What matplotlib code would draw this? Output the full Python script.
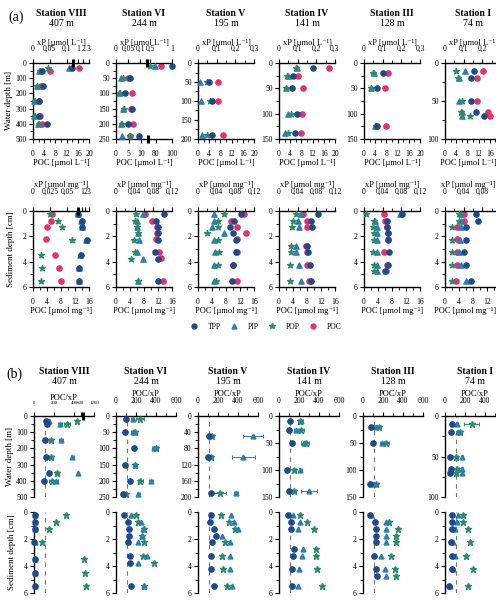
import numpy as np
import matplotlib
matplotlib.use('Agg')
import matplotlib.pyplot as plt
from matplotlib.lines import Line2D

plt.rcParams['font.family'] = ['Liberation Serif', 'DejaVu Serif']
plt.rcParams['font.size'] = 5.5
plt.rcParams['axes.linewidth'] = 1.0

stations = ['Station VIII', 'Station VI', 'Station V', 'Station IV', 'Station III', 'Station I']
bottom_depth = ['407 m', '244 m', '195 m', '141 m', '128 m', '74 m']

# (a) water column: xP [umol/L] and POC [umol/L]
wc_depth = [[30, 50, 150, 250, 350, 400], [10, 50, 100, 150, 200, 240], [50, 100, 190],
            [10, 25, 50, 100, 138], [20, 50, 125], [10, 20, 50, 65, 70]]
wc_tpp = [[0.5, 0.026, 0.031, 0.019, 0.017, 0.041], [1.0, 0.058, 0.037, 0.065, 0.051, 0.097],
          [0.061, 0.074, 0.074], [0.18, 0.077, 0.071, 0.098, 0.086], [0.104, 0.067, 0.07],
          [0.157, 0.139, 0.14, 0.166, 0.21]]
wc_pip = [[0.28, 0.019, 0.011, 0.004, 0.004, 0.016], [0.61, 0.021, 0.0125, 0.03, 0.021, 0.023],
          [0.011, 0.017, 0.02], [0.095, 0.047, 0.038, 0.05, 0.032], [0.051, 0.035, 0.061],
          [0.109, 0.076, 0.073, 0.09, 0.09]]
wc_pop = [[0.045, 0.021, 0.013, 0.006, 0.006, 0.018], [0.5, 0.028, 0.015, 0.032, 0.025, 0.06],
          [0.048, 0.062, 0.048], [0.09, 0.045, 0.035, 0.063, 0.05], [0.05, 0.038, 0.063],
          [0.057, 0.07, 0.09, 0.088, 0.133]]
wc_poc = [[16.3, 6.2, 2.9, 2.3, 2.6, 3.2], [86, 4.9, 6.4, 6.0, 6.9, 5.5], [7.05, 7.05, 8.8],
          [18.0, 6.9, 8.5, 8.1, 7.9], [8.6, 7.5, 7.9], [13.5, 11.3, 11.3, 15.2, 16.0]]

# (a) sediment: xP [umol/mg] and POC [umol/mg]
sd_depth = [[0.25, 0.75, 1.25, 2.25, 3.5, 4.5, 5.5], [0.25, 0.75, 1.25, 1.75, 2.25, 3.25, 3.75, 5.5],
            [0.25, 0.75, 1.25, 1.75, 2.25, 3.25, 4.25, 5.5], [0.25, 0.75, 1.25, 2.75, 3.25, 4.25, 5.5],
            [0.25, 0.75, 1.25, 1.75, 2.25, 3.25, 4.25, 4.75], [0.25, 0.75, 1.25, 2.25, 3.25, 4.25, 5.5]]
sd_tpp = [[0.78, 1.0, 1.1, 2.4, 0.95, 0.85, 0.85], [0.103, 0.086, 0.089, 0.09, 0.089, 0.083, 0.091, 0.09],
          [0.093, 0.078, 0.068, 0.076, 0.082, 0.082, 0.075, 0.072], [0.084, 0.068, 0.07, 0.06, 0.062, 0.066, 0.068],
          [0.081, 0.05, 0.05, 0.052, 0.052, 0.053, 0.052, 0.046], [0.067, 0.07, 0.046, 0.045, 0.04, 0.045, 0.055]]
sd_pip = [[0.75, 0.95, 1.05, 2.3, 0.9, 0.8, 0.8], [0.058, 0.044, 0.045, 0.047, 0.049, 0.044, 0.058, 0.047],
          [0.034, 0.035, 0.029, 0.056, 0.035, 0.036, 0.035, 0.034], [0.048, 0.041, 0.043, 0.037, 0.037, 0.043, 0.048],
          [0.078, 0.024, 0.027, 0.027, 0.027, 0.027, 0.027, 0.027], [0.035, 0.035, 0.034, 0.032, 0.031, 0.034, 0.045]]
sd_pop = [[0.025, 0.036, 0.043, 0.38, 0.012, 0.013, 0.011], [0.042, 0.041, 0.046, 0.047, 0.039, 0.04, 0.033, 0.047],
          [0.055, 0.043, 0.042, 0.019, 0.042, 0.045, 0.042, 0.038], [0.036, 0.03, 0.028, 0.025, 0.025, 0.024, 0.023],
          [0.005, 0.021, 0.02, 0.021, 0.021, 0.02, 0.021, 0.021], [0.03, 0.03, 0.016, 0.014, 0.016, 0.014, 0.014]]
sd_poc = [[5.5, 5.1, 4.1, 3.6, 6.2, 7.4, 7.9], [8.4, 10.2, 11.7, 11.6, 11.5, 12.3, 12.8, 13.4],
          [13.1, 9.4, 11.1, 13.8, 11.2, 11.0, 10.1, 11.2], [6.9, 8.1, 8.1, 7.6, 7.9, 8.1, 8.5],
          [5.7, 6.1, 6.7, 6.9, 6.9, 5.8, 6.6, 6.4], [5.5, 5.5, 3.5, 3.4, 3.4, 3.4, 3.2]]

# (b) water column ratios POC/xP
rw_tpp = [[120, 130, 107, 117, 150, 100], [96, 89, 179, 89, 143, 72], [110, 100, 127],
          [107, 97, 130, 84, 100], [77, 100, 67], [67, 57, 50, 57, 50]]
rw_pip = [[150, 257, 267, 380, 520, 217], [168, 165, 375, 186, 347, 222], [550, 450, 383],
          [224, 167, 247, 214, 300], [133, 190, 110], [117, 134, 167, 167, 167]]
rw_pop = [[470, 324, 174, 167, 224, 184], [240, 190, 400, 190, 240, 96], [143, 127, 217],
          [210, 224, 274, 150, 150], [157, 230, 133], [267, 150, 110, 120, 110]]
rw_pip_err = [[10, 20, 20, 15, 0, 25], [15, 15, 20, 15, 20, 15], [100, 115, 20],
              [20, 20, 25, 15, 80], [10, 20, 10], [10, 10, 10, 10, 10]]
rw_pop_err = [[30, 30, 20, 20, 20, 30], [40, 20, 20, 15, 25, 15], [15, 25, 65],
              [25, 25, 25, 15, 15], [20, 25, 15], [75, 15, 15, 15, 15]]

# (b) sediment ratios POC/xP
rs_tpp = [[7, 7, 7, 4, 7, 9, 12], [83, 117, 133, 130, 123, 140, 140, 147],
          [133, 117, 160, 183, 140, 133, 133, 160], [90, 123, 123, 150, 143, 133, 133],
          [67, 123, 133, 133, 133, 110, 127, 140], [73, 67, 67, 63, 73, 67, 40]]
rs_pip = [[8, 8, 8, 5, 8, 10, 13], [150, 247, 270, 257, 223, 307, 223, 283],
          [333, 360, 400, 243, 317, 317, 317, 343], [143, 210, 190, 240, 233, 200, 190],
          [83, 233, 227, 227, 227, 183, 217, 233], [130, 117, 100, 80, 100, 83, 50]]
rs_pop = [[314, 214, 150, 84, 740, 770, 850], [200, 217, 275, 257, 283, 273, 383, 283],
          [233, 310, 367, np.nan, 267, 243, 250, 293], [210, 283, 350, 367, 367, 377, 433],
          [np.nan, 257, 350, 333, 333, 283, 323, 333], [180, 180, 233, 250, 213, 280, 233]]

c_tpp = '#1e4a88'
c_pip = '#2c7cb8'
c_pop = '#2e8b68'
c_poc = '#e5306c'

W, H = 496, 603
fig = plt.figure(figsize=(W / 100, H / 100), dpi=100)


def box(x0, y0, w, h):
    return fig.add_axes([x0 / W, 1 - (y0 + h) / H, w / W, h / H])


def piecewise(ax, xp, fp):
    xp = np.asarray(xp, float)
    fp = np.asarray(fp, float)
    ax.set_xscale('function', functions=(lambda v: np.interp(v, xp, fp),
                                         lambda v: np.interp(v, fp, xp)))
    ax.set_xlim(xp[0], xp[-1])


def brk(ax, f, y):
    ax.plot([f, f], [y - 0.05, y + 0.05], transform=ax.transAxes, color='k', lw=2.2,
            clip_on=False, solid_capstyle='butt', zorder=10)


def style_y(ax, ymax, major, minor):
    ax.set_ylim(ymax, 0)
    ax.set_yticks(np.arange(0, ymax + 0.1, major))
    ax.set_yticks(np.arange(0, ymax + 0.1, minor), minor=True)
    ax.tick_params(axis='y', which='major', direction='out', length=3, pad=1.5, labelsize=5.5)
    ax.tick_params(axis='y', which='minor', direction='out', length=2)
    ax.spines['right'].set_visible(False)


def lin_ticks(ax, top, step, minor, labels, last):
    # last station is cut by the page edge: drop its final label
    ticks = np.arange(0, top + step / 2, step)
    ax.set_xlim(0, top)
    ax.set_xticks(ticks)
    ax.set_xticks(np.arange(0, top + minor / 2, minor), minor=True)
    if last:
        labels = labels[:-1] + ['']
    ax.set_xticklabels(labels)


cols12 = [33, 116, 198, 279, 364, 445]
cols34 = [34, 116, 198, 279, 363, 445]
wc_ymax = [500, 250, 200, 150, 150, 100]
wc_major = [100, 50, 50, 50, 50, 50]
rw_major = [100, 50, 40, 50, 50, 50]

for i in range(6):
    last = i == 5
    cx = cols12[i] + 28
    fig.text(cx / W, 1 - 14 / H, stations[i], ha='center', va='center', fontsize=7, fontweight='bold')
    fig.text(cx / W, 1 - 24 / H, bottom_depth[i], ha='center', va='center', fontsize=7)
    cx3 = cols34[i] + 30
    fig.text(cx3 / W, 1 - 372 / H, stations[i], ha='center', va='center', fontsize=7, fontweight='bold')
    fig.text(cx3 / W, 1 - 382 / H, bottom_depth[i], ha='center', va='center', fontsize=7)

    # ---- row 1: water column concentrations
    ax = box(cols12[i], 63, 56, 76)
    style_y(ax, wc_ymax[i], wc_major[i], wc_major[i] / 2)
    ax.spines['top'].set_visible(False)
    ax.patch.set_alpha(0)
    if i == 1:
        piecewise(ax, [0, 10, 80, 100], [0, 0.45, 0.71, 1.0])
        ax.set_xticks([0, 5, 10, 80, 100])
        ax.set_xticklabels(['0', '5', '10', '80', '100'])
        brk(ax, 0.57, 0)
    else:
        lin_ticks(ax, 20, 4, 2, ['0', '4', '8', '12', '16', '20'], last)
    ax.tick_params(axis='x', which='major', direction='out', length=3, pad=5)
    ax.tick_params(axis='x', which='minor', direction='out', length=2)
    ax.set_xlabel('POC [µmol L⁻¹]', labelpad=0.5, fontsize=6)
    if last:
        ax.xaxis.label.set_x(0.42)
    ax.scatter(wc_poc[i], wc_depth[i], s=14, color=c_poc, zorder=3, clip_on=False)

    ax2 = ax.twiny()
    for s in ['left', 'right', 'bottom']:
        ax2.spines[s].set_visible(False)
    if i == 0:
        piecewise(ax2, [0, 0.1, 1, 3], [0, 0.6, 0.8, 1.0])
        ax2.set_xticks([0, 0.05, 0.1, 1, 2, 3])
        ax2.set_xticklabels(['0', '0,05', '0,1', '1', '2', '3'])
        brk(ax2, 0.71, 1)
    elif i == 1:
        piecewise(ax2, [0, 0.1, 0.5, 1], [0, 0.43, 0.61, 1.0])
        ax2.set_xticks([0, 0.05, 0.1, 0.5, 1])
        ax2.set_xticklabels(['0', '0,05', '0,1', '0,5', '1'])
        brk(ax2, 0.55, 1)
    else:
        lin_ticks(ax2, 0.3, 0.1, 0.05, ['0', '0,1', '0,2', '0,3'], last)
    ax2.tick_params(axis='x', which='major', direction='out', length=3, pad=4)
    ax2.tick_params(axis='x', which='minor', direction='out', length=2)
    ax2.set_xlabel('xP [µmol L⁻¹]', labelpad=0.5, fontsize=6)
    ax2.set_ylim(wc_ymax[i], 0)
    ax2.scatter(wc_pip[i], wc_depth[i], s=14, marker='^', color=c_pip, zorder=3, clip_on=False)
    ax2.scatter(wc_pop[i], wc_depth[i], s=18, marker='*', color=c_pop, zorder=3, clip_on=False)
    ax2.scatter(wc_tpp[i], wc_depth[i], s=14, color=c_tpp, zorder=3, clip_on=False)
    if i == 0:
        ax.set_ylabel('Water depth [m]', fontsize=6.5, labelpad=2)

    # ---- row 2: sediment concentrations
    ax = box(cols12[i], 211, 56, 76)
    style_y(ax, 6, 2, 1)
    ax.spines['top'].set_visible(False)
    lin_ticks(ax, 16, 4, 2, ['0', '4', '8', '12', '16'], last)
    ax.tick_params(axis='x', which='major', direction='out', length=3, pad=5)
    ax.tick_params(axis='x', which='minor', direction='out', length=2)
    ax.set_xlabel('POC [µmol mg⁻¹]', labelpad=0.5, fontsize=6)
    if last:
        ax.xaxis.label.set_x(0.36)
    ax.scatter(sd_poc[i], sd_depth[i], s=14, color=c_poc, zorder=3, clip_on=False)

    ax2 = ax.twiny()
    for s in ['left', 'right', 'bottom']:
        ax2.spines[s].set_visible(False)
    if i == 0:
        piecewise(ax2, [0, 0.05, 1, 3], [0, 0.61, 0.87, 1.0])
        ax2.set_xticks([0, 0.025, 0.05, 1, 2, 3])
        ax2.set_xticklabels(['0', '0,025', '0,05', '1', '2', '3'])
        brk(ax2, 0.8, 1)
    else:
        lin_ticks(ax2, 0.12, 0.04, 0.02, ['0', '0,04', '0,08', '0,12'], last)
    ax2.tick_params(axis='x', which='major', direction='out', length=3, pad=8)
    ax2.tick_params(axis='x', which='minor', direction='out', length=2)
    ax2.set_xlabel('xP [µmol mg⁻¹]', labelpad=0.5, fontsize=6)
    if last:
        ax2.xaxis.label.set_x(0.42)
    ax2.set_ylim(6, 0)
    ax2.scatter(sd_pip[i], sd_depth[i], s=14, marker='^', color=c_pip, zorder=3, clip_on=False)
    ax2.scatter(sd_pop[i], sd_depth[i], s=18, marker='*', color=c_pop, zorder=3, clip_on=False)
    ax2.scatter(sd_tpp[i], sd_depth[i], s=14, color=c_tpp, zorder=3, clip_on=False)
    if i == 0:
        ax.set_ylabel('Sediment depth [cm]', fontsize=6.5, labelpad=6)

    # ---- row 3: water column ratios
    ax = box(cols34[i], 416, 60, 81)
    style_y(ax, wc_ymax[i], rw_major[i], rw_major[i] / 2)
    ax.spines['bottom'].set_visible(False)
    ax.xaxis.set_ticks_position('top')
    ax.xaxis.set_label_position('top')
    if i == 0:
        piecewise(ax, [0, 400, 600, 1200], [0, 0.67, 0.78, 1.0])
        ax.set_xticks([0, 200, 400, 600, 1200])
        ax.tick_params(axis='x', labelsize=3.5)
        brk(ax, 0.82, 1)
    else:
        lin_ticks(ax, 600, 200, 100, ['0', '200', '400', '600'], last)
    ax.tick_params(axis='x', which='major', direction='out', length=3, pad=5)
    ax.tick_params(axis='x', which='minor', direction='out', length=2)
    ax.set_xlabel('POC/xP', labelpad=0.5, fontsize=6)
    ax.axvline(106, color='#777777', lw=0.8, ls=(0, (4, 4)), zorder=1)
    ax.errorbar(rw_pop[i], wc_depth[i], xerr=rw_pop_err[i], fmt='*', ms=4.5, color=c_pop,
                elinewidth=0.7, capsize=1.5, capthick=0.7, zorder=3, clip_on=False)
    ax.errorbar(rw_pip[i], wc_depth[i], xerr=rw_pip_err[i], fmt='^', ms=3.5, color=c_pip,
                elinewidth=0.7, capsize=1.5, capthick=0.7, zorder=3, clip_on=False)
    ax.plot(rw_tpp[i], wc_depth[i], 'o', ms=3.8, color=c_tpp, zorder=4, clip_on=False)
    if i == 0:
        ax.set_ylabel('Water depth [m]', fontsize=6.5, labelpad=2)

    # ---- row 4: sediment ratios
    ax = box(cols34[i], 512, 60, 81)
    style_y(ax, 6, 2, 1)
    for s in ['top', 'bottom']:
        ax.spines[s].set_visible(False)
    if i == 0:
        piecewise(ax, [0, 400, 600, 1200], [0, 0.67, 0.78, 1.0])
    else:
        ax.set_xlim(0, 600)
    ax.tick_params(axis='x', which='both', top=False, bottom=False, labeltop=False, labelbottom=False)
    ax.axvline(106, color='#777777', lw=0.8, ls=(0, (4, 4)), zorder=1)
    ax.plot(rs_pop[i], sd_depth[i], '*', ms=4.5, color=c_pop, zorder=3, clip_on=False)
    ax.plot(rs_pip[i], sd_depth[i], '^', ms=3.5, color=c_pip, zorder=3, clip_on=False)
    ax.plot(rs_tpp[i], sd_depth[i], 'o', ms=3.8, color=c_tpp, zorder=4, clip_on=False)
    if i == 0:
        ax.set_ylabel('Sediment depth [cm]', fontsize=6.5, labelpad=6)

fig.text(8 / W, 1 - 17 / H, '(a)', fontsize=10, va='center', ha='left')
fig.text(6 / W, 1 - 374 / H, '(b)', fontsize=10, va='center', ha='left')

handles = [Line2D([], [], ls='', marker='o', ms=3.5, color=c_tpp),
           Line2D([], [], ls='', marker='^', ms=3.5, color=c_pip),
           Line2D([], [], ls='', marker='*', ms=4, color=c_pop),
           Line2D([], [], ls='', marker='o', ms=3.5, color=c_poc)]
fig.legend(handles, ['TPP', 'PIP', 'POP', 'POC'], loc='center', bbox_to_anchor=(266 / W, 1 - 327 / H),
           ncol=4, frameon=False, fontsize=5.5, handlelength=1.0, handletextpad=1.3, columnspacing=1.2)

fig.savefig('out.png', dpi=100)
